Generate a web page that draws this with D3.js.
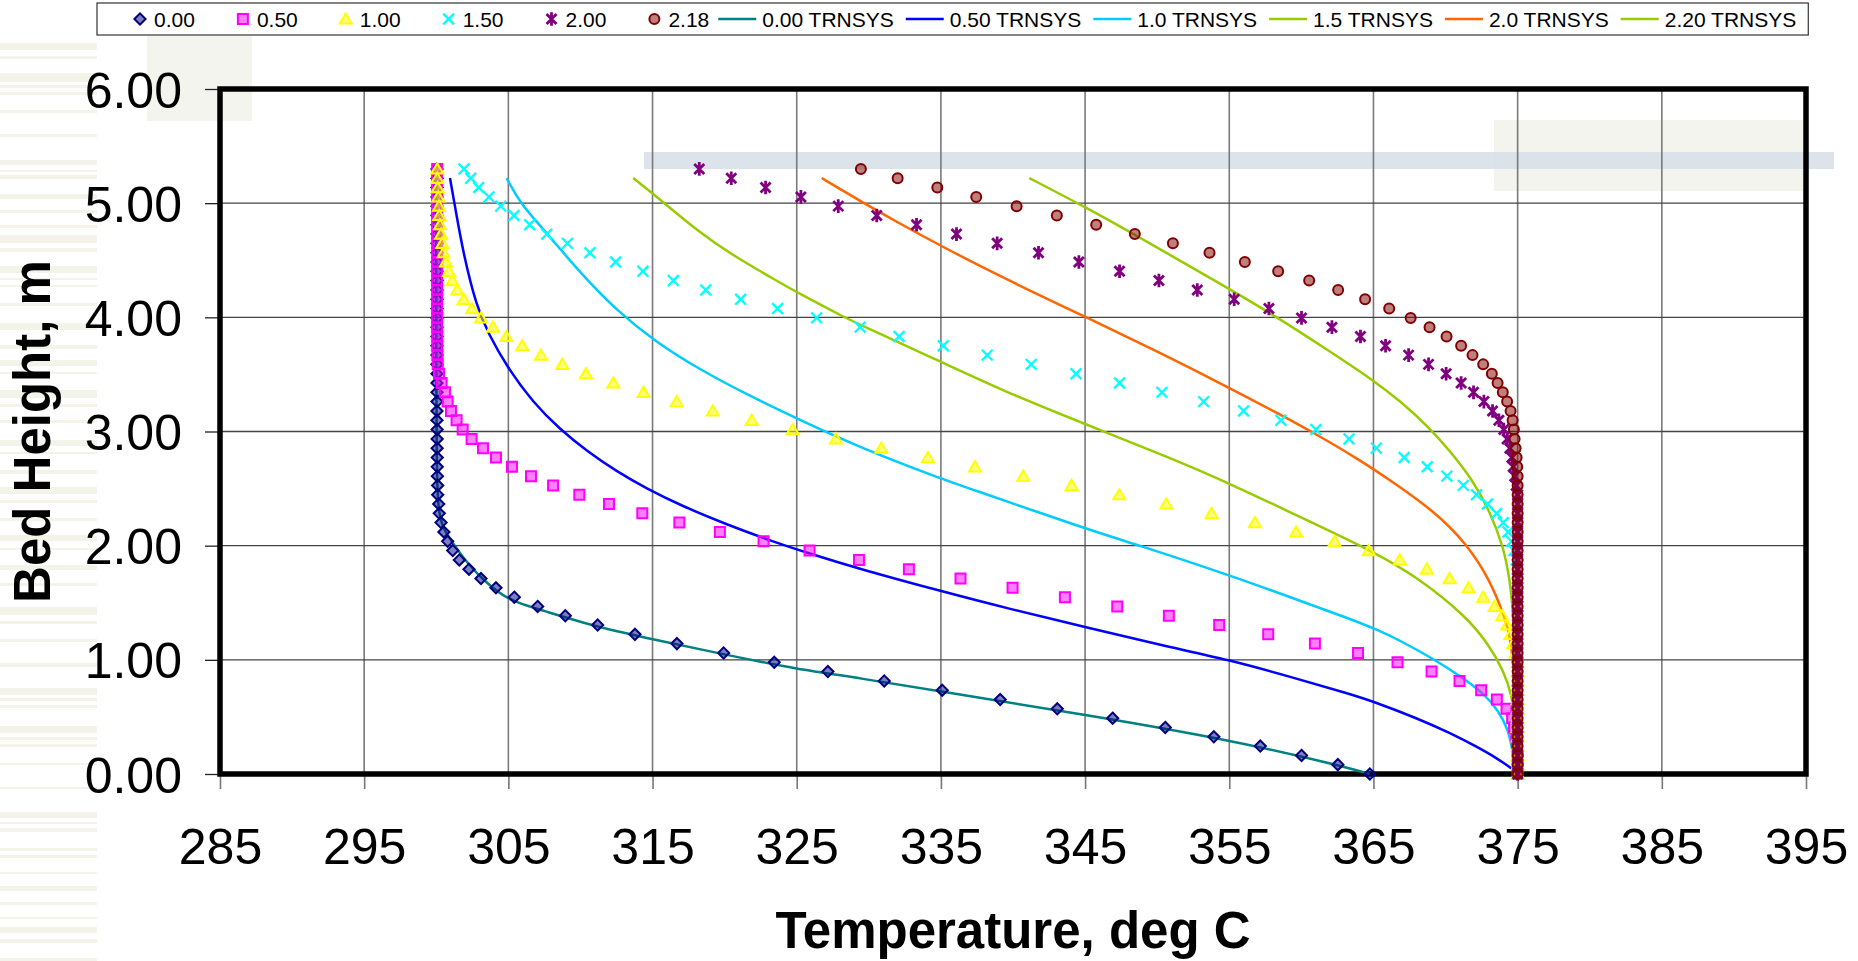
<!DOCTYPE html>
<html>
<head>
<meta charset="utf-8">
<title>Bed Height vs Temperature</title>
<script src="https://cdn.jsdelivr.net/npm/d3@7"></script>
<style>
  body { margin: 0; background: #fff; }
  svg { display: block; font-family: "Liberation Sans", Arial, sans-serif; }
</style>
</head>
<body>
<script>
//bed heights of the measured points (m), bottom to top
var bedHeight = [
  0.000, 0.082, 0.163, 0.245, 0.326, 0.408, 0.489, 0.571, 0.652, 0.734, 0.815,
  0.897, 0.978, 1.060, 1.142, 1.223, 1.305, 1.386, 1.468, 1.549, 1.631, 1.712,
  1.794, 1.875, 1.957, 2.038, 2.120, 2.202, 2.283, 2.365, 2.446, 2.528, 2.609,
  2.691, 2.772, 2.854, 2.935, 3.017, 3.098, 3.180, 3.262, 3.343, 3.425, 3.506,
  3.588, 3.669, 3.751, 3.832, 3.914, 3.995, 4.077, 4.158, 4.240, 4.322, 4.403,
  4.485, 4.566, 4.648, 4.729, 4.811, 4.892, 4.974, 5.055, 5.137, 5.218, 5.300];

//measured temperatures (deg C) at each bed height, one array per time
var temp000 = [
  364.75, 362.53, 360.01, 357.15, 353.93, 350.56, 346.91, 343.07, 339.11, 335.09, 331.07,
  327.16, 323.44, 319.93, 316.69, 313.78, 311.19, 308.95, 307.03, 305.41, 304.14, 303.10,
  302.27, 301.60, 301.14, 300.79, 300.53, 300.33, 300.21, 300.17, 300.10, 300.10, 300.08,
  300.07, 300.07, 300.06, 300.06, 300.06, 300.05, 300.05, 300.05, 300.05, 300.05, 300.05,
  300.05, 300.05, 300.05, 300.05, 300.05, 300.05, 300.05, 300.05, 300.05, 300.05, 300.05,
  300.05, 300.05, 300.05, 300.05, 300.05, 300.05, 300.05, 300.05, 300.05, 300.05, 300.05];
var temp050 = [
  375.00, 375.00, 375.00, 374.95, 374.90, 374.75, 374.62, 374.23, 373.56, 372.47, 370.97,
  369.03, 366.67, 363.93, 360.94, 357.70, 354.30, 350.81, 347.23, 343.60, 339.97, 336.36,
  332.78, 329.32, 325.89, 322.70, 319.67, 316.86, 314.29, 311.98, 309.92, 308.10, 306.57,
  305.25, 304.14, 303.24, 302.45, 301.83, 301.41, 301.02, 300.79, 300.60, 300.37, 300.19,
  300.10, 300.08, 300.07, 300.07, 300.06, 300.06, 300.06, 300.06, 300.06, 300.06, 300.06,
  300.06, 300.06, 300.06, 300.06, 300.06, 300.06, 300.06, 300.06, 300.06, 300.06, 300.06];
var temp100 = [
  375.00, 375.00, 375.00, 375.00, 375.00, 375.00, 375.00, 375.00, 375.00, 375.00, 375.00,
  375.00, 375.00, 374.85, 374.70, 374.51, 374.27, 373.93, 373.40, 372.61, 371.59, 370.28,
  368.70, 366.83, 364.68, 362.30, 359.64, 356.78, 353.77, 350.63, 347.37, 344.06, 340.71,
  337.36, 334.10, 330.87, 327.72, 324.72, 321.87, 319.17, 316.67, 314.38, 312.28, 310.38,
  308.74, 307.26, 305.96, 304.86, 303.93, 303.10, 302.48, 301.90, 301.46, 301.11, 300.88,
  300.67, 300.51, 300.42, 300.33, 300.26, 300.21, 300.19, 300.14, 300.10, 300.07, 300.07];
var temp150 = [
  375.00, 375.00, 375.00, 375.00, 375.00, 375.00, 375.00, 375.00, 375.00, 375.00, 375.00,
  375.00, 375.00, 375.00, 375.00, 375.00, 375.00, 375.00, 375.00, 375.00, 375.00, 375.00,
  375.00, 374.90, 374.75, 374.58, 374.34, 374.00, 373.54, 372.91, 372.15, 371.23, 370.09,
  368.73, 367.13, 365.20, 363.30, 361.01, 358.58, 355.99, 353.22, 350.33, 347.39, 344.37,
  341.26, 338.21, 335.16, 332.10, 329.40, 326.38, 323.67, 321.11, 318.69, 316.44, 314.33,
  312.44, 310.66, 309.09, 307.66, 306.48, 305.39, 304.47, 303.65, 302.94, 302.39, 301.92];
var temp200 = [
  375.00, 375.00, 375.00, 375.00, 375.00, 375.00, 375.00, 375.00, 375.00, 375.00, 375.00,
  375.00, 375.00, 375.00, 375.00, 375.00, 375.00, 375.00, 375.00, 375.00, 375.00, 375.00,
  375.00, 375.00, 375.00, 375.00, 375.00, 375.00, 375.00, 375.00, 375.00, 374.90, 374.80,
  374.69, 374.60, 374.46, 374.27, 374.04, 373.70, 373.26, 372.66, 371.94, 371.08, 370.04,
  368.82, 367.44, 365.84, 364.10, 362.12, 360.01, 357.75, 355.34, 352.78, 350.12, 347.39,
  344.57, 341.77, 338.90, 336.08, 333.31, 330.55, 327.88, 325.29, 322.84, 320.46, 318.24];
var temp218 = [
  375.00, 375.00, 375.00, 375.00, 375.00, 375.00, 375.00, 375.00, 375.00, 375.00, 375.00,
  375.00, 375.00, 375.00, 375.00, 375.00, 375.00, 375.00, 375.00, 375.00, 375.00, 375.00,
  375.00, 375.00, 375.00, 375.00, 375.00, 375.00, 375.00, 375.00, 375.00, 375.00, 375.00,
  374.97, 374.93, 374.86, 374.79, 374.74, 374.65, 374.51, 374.27, 373.97, 373.61, 373.21,
  372.61, 371.87, 371.08, 370.07, 368.89, 367.58, 366.09, 364.42, 362.55, 360.54, 358.39,
  356.08, 353.63, 351.09, 348.45, 345.77, 343.04, 340.25, 337.45, 334.75, 332.00, 329.45];

//TRNSYS model curves, [temperature, bed height]
var trnsys000 = [[300.00,5.22],[300.00,4.50],[300.00,3.50],[300.02,2.80],[300.10,2.30],[300.50,2.15],
  [300.95,2.06],[302.11,1.85],[303.50,1.67],[305.02,1.52],[307.19,1.44],[311.35,1.28],[315.05,1.18],
  [320.60,1.03],[324.99,0.92],[329.38,0.84],[335.09,0.72],[345.00,0.52],[354.99,0.30],[362.53,0.08],[364.75,0.00]];
var trnsys050 = [[300.95,5.22],[301.30,4.97],[301.87,4.56],[302.80,4.09],[303.61,3.86],[304.88,3.57],
  [306.73,3.25],[308.58,3.02],[310.43,2.83],[312.51,2.65],[314.59,2.50],[317.00,2.35],[320.14,2.185],
  [323.37,2.035],[325.92,1.93],[329.38,1.795],[335.05,1.60],[339.78,1.445],[345.10,1.285],[350.19,1.13],
  [355.00,1.00],[359.43,0.845],[363.37,0.70],[364.98,0.635],[367.99,0.49],[370.30,0.36],[372.15,0.24],
  [373.54,0.14],[374.58,0.05],[375.00,0.00]];
var trnsys100 = [[304.88,5.22],[305.80,5.00],[307.66,4.74],[309.97,4.39],[312.51,4.06],[315.05,3.80],
  [318.29,3.54],[321.76,3.31],[325.23,3.10],[329.38,2.86],[334.93,2.59],[337.24,2.49],[344.99,2.15],
  [348.57,2.01],[354.93,1.745],[359.43,1.54],[363.37,1.36],[365.33,1.26],[366.83,1.17],[369.14,1.01],
  [370.99,0.86],[372.61,0.71],[373.65,0.56],[374.34,0.39],[374.58,0.24],[375.00,0.00]];
var trnsys150 = [[313.66,5.22],[315.74,5.01],[318.29,4.74],[320.60,4.54],[323.61,4.32],[325.00,4.22],
  [328.46,3.99],[329.50,3.93],[334.93,3.615],[339.78,3.33],[345.10,3.06],[350.88,2.77],[354.93,2.55],
  [359.43,2.28],[364.98,1.95],[367.99,1.73],[371.46,1.38],[373.07,1.12],[373.99,0.91],[374.58,0.71],
  [374.90,0.40],[375.00,0.00]];
var trnsys200 = [[326.73,5.22],[329.38,5.02],[332.16,4.82],[334.93,4.63],[339.55,4.33],[345.10,4.00],
  [350.19,3.69],[355.04,3.38],[358.28,3.165],[361.05,2.975],[364.06,2.75],[366.14,2.575],[369.14,2.31],
  [371.46,2.02],[373.07,1.70],[373.99,1.41],[374.45,1.23],[374.80,0.90],[375.00,0.00]];
var trnsys220 = [[341.13,5.22],[345.10,4.96],[348.57,4.715],[352.50,4.43],[355.04,4.245],[358.28,4.005],
  [361.75,3.72],[364.98,3.45],[366.83,3.27],[368.91,3.03],[370.30,2.83],[371.91,2.57],[373.07,2.30],
  [373.99,2.00],[374.45,1.72],[374.80,1.30],[375.00,0.00]];

//series names and axis ticks
var pointNames = ["0.00", "0.50", "1.00", "1.50", "2.00", "2.18"];
var lineNames = ["0.00 TRNSYS", "0.50 TRNSYS", "1.0 TRNSYS", "1.5 TRNSYS", "2.0 TRNSYS", "2.20 TRNSYS"];
var xTicks = [285, 295, 305, 315, 325, 335, 345, 355, 365, 375, 385, 395];
var yTicks = [0, 1, 2, 3, 4, 5, 6];

(function(){
//frame dimensions
var width = 1858,
    height = 961,
    plotLeft = 220,
    plotRight = 1806,
    plotTop = 89,
    plotBottom = 774;

//marker look for each measured series
var pointStyles = [
    {shape: "diamond", color: "#000080", fill: true},
    {shape: "square", color: "#ff00ff", fill: true},
    {shape: "triangle", color: "#ffff00", fill: true},
    {shape: "cross", color: "#00ffff", fill: false},
    {shape: "star", color: "#800080", fill: false},
    {shape: "circle", color: "#800000", fill: true}
];
var pointData = [temp000, temp050, temp100, temp150, temp200, temp218];
var lineData = [trnsys000, trnsys050, trnsys100, trnsys150, trnsys200, trnsys220];
var lineColors = ["#008080", "#0000ff", "#00ccff", "#99cc00", "#ff6600", "#99cc00"];

var svg = d3.select("body")
    .append("svg")
    .attr("width", width)
    .attr("height", height);

var x = d3.scaleLinear()
    .domain([285, 395])
    .range([plotLeft, plotRight]);
var y = d3.scaleLinear()
    .domain([0, 6])
    .range([plotBottom, plotTop]);

//slide background bits showing through the chart
var stripes = [[43,7],[56,3],[73,9],[85,3],[92,3],[110,3],[134,3],[160,5],[170,2],[175,4],[194,5],
    [210,3],[225,3],[235,8],[248,4],[266,7],[278,2],[285,2],[303,3],[323,7],[345,4],[360,6],[372,2],
    [390,8],[404,3],[420,3],[440,6],[452,2],[470,4],[487,7],[500,3],[518,3],[535,6],[548,2],[565,5],
    [583,3],[607,8],[621,3],[639,3],[663,4],[688,7],[698,3],[705,3],[726,7],[737,3],[744,3],[763,2],
    [787,2],[812,6],[822,2],[828,4],[848,3],[855,3],[872,2],[886,5],[902,3],[917,2],[927,6],[939,4],[958,3]];
var bg = svg.append("g").attr("class", "background");
bg.selectAll(".stripe")
    .data(stripes)
    .enter()
    .append("rect")
    .attr("x", 0)
    .attr("width", 97)
    .attr("y", function(d){ return d[0]; })
    .attr("height", function(d){ return d[1]; })
    .attr("fill", "#f3f3ea");
bg.append("rect").attr("x", 147).attr("y", 36).attr("width", 105).attr("height", 85).attr("fill", "#f4f4ee");
bg.append("rect").attr("x", 1494).attr("y", 120).attr("width", 309).attr("height", 71).attr("fill", "#f4f4ee");
bg.append("rect").attr("x", 644).attr("y", 152).attr("width", 1190).attr("height", 17)
    .attr("fill", "#d6dee7").attr("opacity", 0.85);

//gridlines
svg.append("g")
    .attr("class", "gridX")
    .selectAll("line")
    .data(xTicks.slice(1, -1))
    .enter()
    .append("line")
    .attr("x1", function(d){ return x(d); })
    .attr("x2", function(d){ return x(d); })
    .attr("y1", plotTop)
    .attr("y2", plotBottom)
    .attr("stroke", "#7a7a7a")
    .attr("stroke-width", 1.6);
svg.append("g")
    .attr("class", "gridY")
    .selectAll("line")
    .data(yTicks.slice(1, -1))
    .enter()
    .append("line")
    .attr("x1", plotLeft)
    .attr("x2", plotRight)
    .attr("y1", function(d){ return y(d); })
    .attr("y2", function(d){ return y(d); })
    .attr("stroke", "#444")
    .attr("stroke-width", 1.3);

//axes
var xAxis = svg.append("g")
    .attr("class", "axis")
    .attr("transform", "translate(0," + plotBottom + ")")
    .call(d3.axisBottom(x).tickValues(xTicks).tickSize(15).tickFormat(d3.format("d")));
xAxis.select(".domain").remove();
xAxis.selectAll("line").attr("stroke", "#777").attr("stroke-width", 1.6);
xAxis.selectAll("text")
    .attr("y", 90)
    .attr("dy", 0)
    .attr("fill", "#000")
    .style("font-size", "50px")
    .style("font-family", "'Liberation Sans', Arial, sans-serif");

var yAxis = svg.append("g")
    .attr("class", "axis")
    .attr("transform", "translate(" + plotLeft + ",0)")
    .call(d3.axisLeft(y).tickValues(yTicks).tickSize(15).tickPadding(23).tickFormat(d3.format(".2f")));
yAxis.select(".domain").remove();
yAxis.selectAll("line").attr("stroke", "#222").attr("stroke-width", 1.3);
yAxis.selectAll("text")
    .attr("dy", "0.36em")
    .attr("fill", "#000")
    .style("font-size", "50px")
    .style("font-family", "'Liberation Sans', Arial, sans-serif");

//plot frame
svg.append("rect")
    .attr("class", "chartFrame")
    .attr("x", plotLeft)
    .attr("y", plotTop)
    .attr("width", plotRight - plotLeft)
    .attr("height", plotBottom - plotTop)
    .attr("fill", "none")
    .attr("stroke", "#000")
    .attr("stroke-width", 5.5);

//TRNSYS curves (smoothed like the spreadsheet lines)
var line = d3.line()
    .x(function(d){ return x(d[0]); })
    .y(function(d){ return y(d[1]); })
    .curve(d3.curveBasis);
svg.append("g")
    .attr("class", "trnsys")
    .selectAll("path")
    .data(lineData)
    .enter()
    .append("path")
    .attr("d", line)
    .attr("fill", "none")
    .attr("stroke", function(d, i){ return lineColors[i]; })
    .attr("stroke-width", 2.5);

//marker shapes, centred on 0,0
function markerPath(shape){
    if (shape == "diamond") return "M0,-5.6L5.6,0L0,5.6L-5.6,0Z";
    if (shape == "square") return "M-5,-5H5V5H-5Z";
    if (shape == "triangle") return "M0,-5.6L6,4.6H-6Z";
    if (shape == "cross") return "M-5.4,-5.4L5.4,5.4M5.4,-5.4L-5.4,5.4";
    if (shape == "star") return "M-5,-5L5,5M5,-5L-5,5M0,-6.8V6.8";
    return "M-5,0A5,5 0 1,0 5,0A5,5 0 1,0 -5,0Z";
};

function drawMarker(sel, style){
    sel.attr("d", markerPath(style.shape))
        .attr("fill", style.fill ? style.color : "none")
        .attr("fill-opacity", 0.5)
        .attr("stroke", style.color)
        .attr("stroke-width", style.shape == "star" ? 2.8 : (style.shape == "cross" ? 2.3 : 2));
};

//measured points
pointData.forEach(function(temps, s){
    var pts = temps.map(function(t, i){ return [t, bedHeight[i]]; });
    svg.append("g")
        .attr("class", "points s" + s)
        .selectAll("path")
        .data(pts)
        .enter()
        .append("path")
        .attr("transform", function(d){ return "translate(" + x(d[0]) + "," + y(d[1]) + ")"; })
        .call(drawMarker, pointStyles[s]);
});

//legend
var legend = svg.append("g").attr("class", "legend");
var legendBox = legend.append("rect")
    .attr("x", 97)
    .attr("y", 3)
    .attr("height", 32)
    .attr("fill", "#fff")
    .attr("stroke", "#333")
    .attr("stroke-width", 1.2);
var cursor = 140,
    midY = 19,
    textEnd = 0;
pointNames.forEach(function(name, i){
    legend.append("path")
        .attr("transform", "translate(" + cursor + "," + midY + ")")
        .call(drawMarker, pointStyles[i]);
    var t = legend.append("text")
        .attr("x", cursor + 14)
        .attr("y", midY + 7.5)
        .style("font-size", "21px")
        .text(name);
    textEnd = cursor + 14 + t.node().getComputedTextLength();
    cursor = textEnd + 48;
});
cursor = textEnd + 9;
lineNames.forEach(function(name, i){
    legend.append("line")
        .attr("x1", cursor)
        .attr("x2", cursor + 38)
        .attr("y1", midY)
        .attr("y2", midY)
        .attr("stroke", lineColors[i])
        .attr("stroke-width", 2.5);
    var t = legend.append("text")
        .attr("x", cursor + 44)
        .attr("y", midY + 7.5)
        .style("font-size", "21px")
        .text(name);
    textEnd = cursor + 44 + t.node().getComputedTextLength();
    cursor = textEnd + 12;
});
legendBox.attr("width", textEnd + 12 - 97);

//axis titles
svg.append("text")
    .attr("transform", "translate(50," + ((plotTop + plotBottom) / 2) + ") rotate(-90)")
    .attr("text-anchor", "middle")
    .style("font-size", "51px")
    .style("font-weight", "bold")
    .text("Bed Height, m");
svg.append("text")
    .attr("x", (plotLeft + plotRight) / 2)
    .attr("y", 948)
    .attr("text-anchor", "middle")
    .style("font-size", "51px")
    .style("font-weight", "bold")
    .text("Temperature, deg C");
})();
</script>
</body>
</html>
